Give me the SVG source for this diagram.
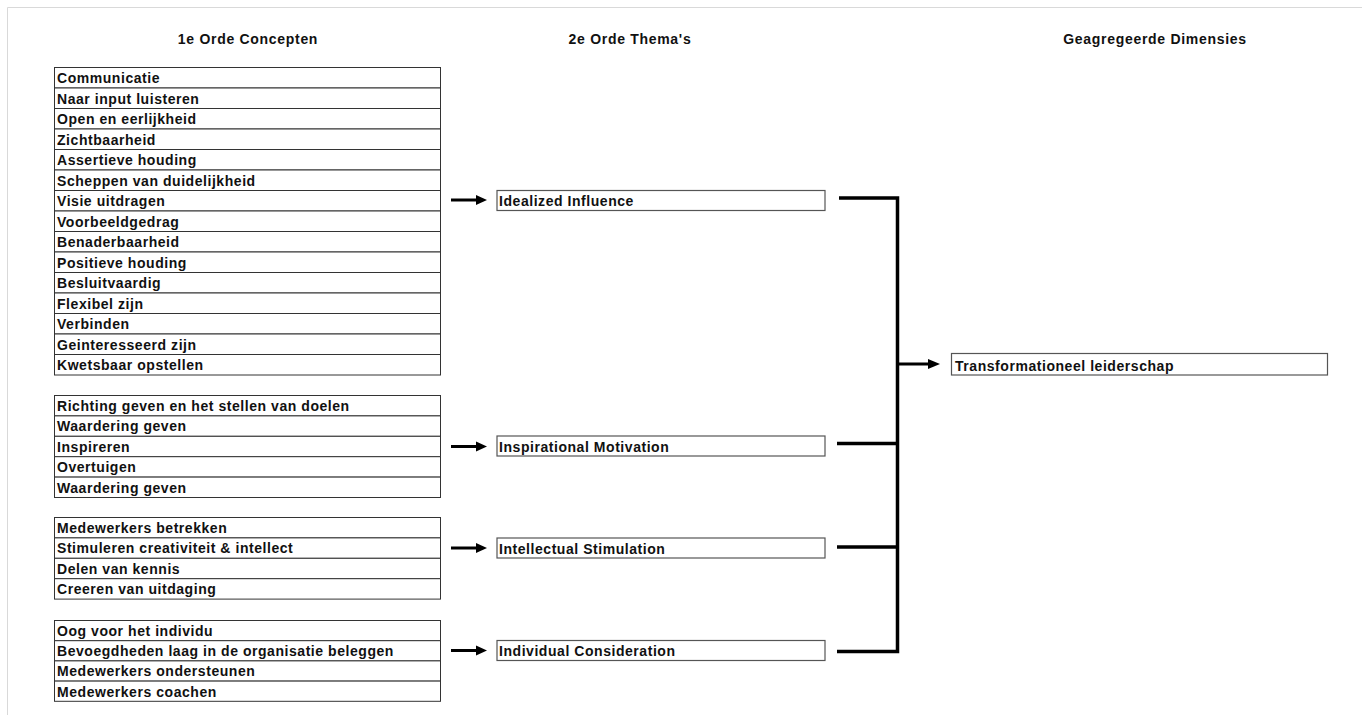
<svg xmlns="http://www.w3.org/2000/svg" width="1362" height="715" viewBox="0 0 1362 715">
  <style>
    .hdr { font-family: "Liberation Sans", Arial, sans-serif; font-weight: bold; font-size: 14px; letter-spacing: 0.7px; fill: #111; text-anchor: middle; }
    .lbl { font-family: "Liberation Sans", Arial, sans-serif; font-weight: bold; font-size: 14px; letter-spacing: 0.55px; fill: #111; }
    .row { fill: #fff; stroke: #333; stroke-width: 1; }
    .theme { fill: #fff; stroke: #555; stroke-width: 1.2; }
    .wire { fill: none; stroke: #000; stroke-width: 3.5; stroke-linecap: butt; }
    .shaft { stroke: #000; stroke-width: 3; }
    .head { fill: #000; }
  </style>

  <rect x="0" y="0" width="1362" height="715" fill="#fff"/>
  <!-- page frame -->
  <path d="M7.5 715 V7.5 H1362" fill="none" stroke="#d9d9d9" stroke-width="1"/>

  <!-- column headings -->
  <g id="headings">
    <text class="hdr" x="248" y="44">1e Orde Concepten</text>
    <text class="hdr" x="630" y="44">2e Orde Thema's</text>
    <text class="hdr" x="1155" y="44">Geagregeerde Dimensies</text>
  </g>

  <!-- first-order concepts: Idealized Influence -->
  <g id="concepts-idealized">
    <rect class="row" x="54.5" y="67.5" width="386" height="20.5"/>
    <rect class="row" x="54.5" y="88" width="386" height="20.5"/>
    <rect class="row" x="54.5" y="108.5" width="386" height="20.5"/>
    <rect class="row" x="54.5" y="129" width="386" height="20.5"/>
    <rect class="row" x="54.5" y="149.5" width="386" height="20.5"/>
    <rect class="row" x="54.5" y="170" width="386" height="20.5"/>
    <rect class="row" x="54.5" y="190.5" width="386" height="20.5"/>
    <rect class="row" x="54.5" y="211" width="386" height="20.5"/>
    <rect class="row" x="54.5" y="231.5" width="386" height="20.5"/>
    <rect class="row" x="54.5" y="252" width="386" height="20.5"/>
    <rect class="row" x="54.5" y="272.5" width="386" height="20.5"/>
    <rect class="row" x="54.5" y="293" width="386" height="20.5"/>
    <rect class="row" x="54.5" y="313.5" width="386" height="20.5"/>
    <rect class="row" x="54.5" y="334" width="386" height="20.5"/>
    <rect class="row" x="54.5" y="354.5" width="386" height="20.5"/>
    <text class="lbl" x="57" y="83">Communicatie</text>
    <text class="lbl" x="57" y="103.5">Naar input luisteren</text>
    <text class="lbl" x="57" y="124">Open en eerlijkheid</text>
    <text class="lbl" x="57" y="144.5">Zichtbaarheid</text>
    <text class="lbl" x="57" y="165">Assertieve houding</text>
    <text class="lbl" x="57" y="185.5">Scheppen van duidelijkheid</text>
    <text class="lbl" x="57" y="206">Visie uitdragen</text>
    <text class="lbl" x="57" y="226.5">Voorbeeldgedrag</text>
    <text class="lbl" x="57" y="247">Benaderbaarheid</text>
    <text class="lbl" x="57" y="267.5">Positieve houding</text>
    <text class="lbl" x="57" y="288">Besluitvaardig</text>
    <text class="lbl" x="57" y="308.5">Flexibel zijn</text>
    <text class="lbl" x="57" y="329">Verbinden</text>
    <text class="lbl" x="57" y="349.5">Geinteresseerd zijn</text>
    <text class="lbl" x="57" y="370">Kwetsbaar opstellen</text>
  </g>

  <!-- first-order concepts: Inspirational Motivation -->
  <g id="concepts-inspirational">
    <rect class="row" x="54.5" y="395.5" width="386" height="20.4"/>
    <rect class="row" x="54.5" y="415.9" width="386" height="20.4"/>
    <rect class="row" x="54.5" y="436.3" width="386" height="20.4"/>
    <rect class="row" x="54.5" y="456.7" width="386" height="20.4"/>
    <rect class="row" x="54.5" y="477.1" width="386" height="20.4"/>
    <text class="lbl" x="57" y="411">Richting geven en het stellen van doelen</text>
    <text class="lbl" x="57" y="431.4">Waardering geven</text>
    <text class="lbl" x="57" y="451.8">Inspireren</text>
    <text class="lbl" x="57" y="472.2">Overtuigen</text>
    <text class="lbl" x="57" y="492.6">Waardering geven</text>
  </g>

  <!-- first-order concepts: Intellectual Stimulation -->
  <g id="concepts-intellectual">
    <rect class="row" x="54.5" y="517.5" width="386" height="20.4"/>
    <rect class="row" x="54.5" y="537.9" width="386" height="20.4"/>
    <rect class="row" x="54.5" y="558.3" width="386" height="20.4"/>
    <rect class="row" x="54.5" y="578.7" width="386" height="20.4"/>
    <text class="lbl" x="57" y="533">Medewerkers betrekken</text>
    <text class="lbl" x="57" y="553.4">Stimuleren creativiteit &amp; intellect</text>
    <text class="lbl" x="57" y="573.8">Delen van kennis</text>
    <text class="lbl" x="57" y="594.2">Creeren van uitdaging</text>
  </g>

  <!-- first-order concepts: Individual Consideration -->
  <g id="concepts-individual">
    <rect class="row" x="54.5" y="620.5" width="386" height="20.2"/>
    <rect class="row" x="54.5" y="640.7" width="386" height="20.2"/>
    <rect class="row" x="54.5" y="660.9" width="386" height="20.2"/>
    <rect class="row" x="54.5" y="681.1" width="386" height="20.2"/>
    <text class="lbl" x="57" y="636">Oog voor het individu</text>
    <text class="lbl" x="57" y="656.2">Bevoegdheden laag in de organisatie beleggen</text>
    <text class="lbl" x="57" y="676.4">Medewerkers ondersteunen</text>
    <text class="lbl" x="57" y="696.6">Medewerkers coachen</text>
  </g>

  <!-- second-order themes -->
  <g id="theme-idealized">
    <rect class="theme" x="497" y="190.5" width="328" height="20"/>
    <text class="lbl" x="499" y="206">Idealized Influence</text>
  </g>
  <g id="theme-inspirational">
    <rect class="theme" x="497" y="436" width="328" height="20"/>
    <text class="lbl" x="499" y="451.5">Inspirational Motivation</text>
  </g>
  <g id="theme-intellectual">
    <rect class="theme" x="497" y="538" width="328" height="20"/>
    <text class="lbl" x="499" y="553.5">Intellectual Stimulation</text>
  </g>
  <g id="theme-individual">
    <rect class="theme" x="497" y="640.5" width="328" height="20"/>
    <text class="lbl" x="499" y="656">Individual Consideration</text>
  </g>

  <!-- aggregate dimension -->
  <g id="dimension-transformational">
    <rect class="theme" x="951.5" y="353.5" width="376" height="21.5"/>
    <text class="lbl" x="955" y="370.5">Transformationeel leiderschap</text>
  </g>

  <!-- connectors -->
  <g id="connectors">
    <!-- concept groups to themes -->
    <line class="shaft" x1="451" y1="200" x2="478" y2="200"/>
    <path class="head" d="M476 195 L487 200 L476 205 Z"/>
    <line class="shaft" x1="451" y1="446.5" x2="478" y2="446.5"/>
    <path class="head" d="M476 441.5 L487 446.5 L476 451.5 Z"/>
    <line class="shaft" x1="451" y1="548" x2="478" y2="548"/>
    <path class="head" d="M476 543 L487 548 L476 553 Z"/>
    <line class="shaft" x1="451" y1="650.5" x2="478" y2="650.5"/>
    <path class="head" d="M476 645.5 L487 650.5 L476 655.5 Z"/>

    <!-- themes joined into one bracket -->
    <path class="wire" d="M839 198 H897.5 V651.5 H837"/>
    <line class="wire" x1="837" y1="443.5" x2="897.5" y2="443.5"/>
    <line class="wire" x1="837" y1="547" x2="897.5" y2="547"/>

    <!-- bracket to dimension -->
    <line class="shaft" x1="897" y1="364" x2="930" y2="364"/>
    <path class="head" d="M928 359 L940 364 L928 369 Z"/>
  </g>
</svg>
